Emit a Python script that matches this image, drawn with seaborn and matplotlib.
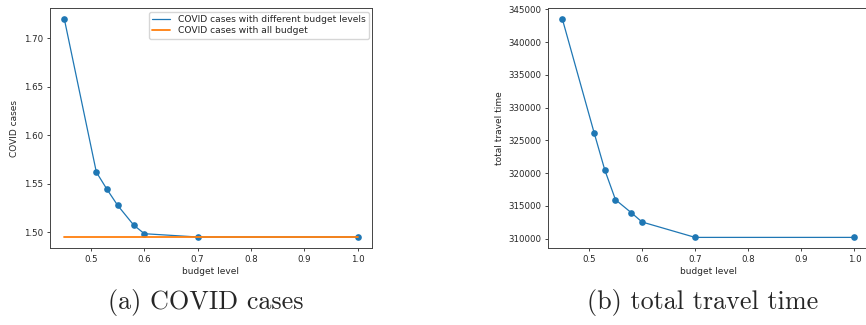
import matplotlib
matplotlib.use("Agg")
import matplotlib.pyplot as plt
from matplotlib.lines import Line2D
import seaborn as sns
import pandas as pd

budget = [0.45, 0.51, 0.53, 0.55, 0.58, 0.6, 0.7, 1.0]
covid_cases = [1.7196, 1.5618, 1.544, 1.5275, 1.5072, 1.4983, 1.4949, 1.4949]
covid_all_budget = 1.4945
travel_time = [343500, 326100, 320450, 315950, 313950, 312550, 310200, 310200]

legend_labels = ["COVID cases with different budget levels", "COVID cases with all budget"]
captions = ["(a) COVID cases", "(b) total travel time"]

sns.set_style("ticks")
plt.rcParams['font.family'] = ['DejaVu Sans']

W, H = 866, 325
fig = plt.figure(figsize=(W / 100, H / 100), dpi=100)

def px_axes(l, t, r, b):
    return fig.add_axes([l / W, 1 - b / H, (r - l) / W, (b - t) / H])

fs = 6.2
lfs = 6.5
ax1 = px_axes(49.7, 8.3, 372.3, 248.3)
ax2 = px_axes(547.8, 8.3, 869, 248.3)

c0 = sns.color_palette()[0]
c1 = sns.color_palette()[1]

df1 = pd.DataFrame({"budget level": budget, "COVID cases": covid_cases})
sns.lineplot(data=df1, x="budget level", y="COVID cases", ax=ax1, color=c0,
             marker="o", markersize=4.8, markeredgewidth=0, linewidth=0.9,
             legend=False)
df_all = pd.DataFrame({"budget level": [budget[0], budget[-1]],
                       "COVID cases": [covid_all_budget, covid_all_budget]})
sns.lineplot(data=df_all, x="budget level", y="COVID cases", ax=ax1, color=c1,
             linewidth=1.3, legend=False)
handles = [Line2D([], [], color=c0, linewidth=0.9),
           Line2D([], [], color=c1, linewidth=1.3)]
ax1.legend(handles, legend_labels, loc="upper right", fontsize=6.6, frameon=True,
           fancybox=True, handlelength=2.0, borderpad=0.35, labelspacing=0.25,
           borderaxespad=0.4)

df2 = pd.DataFrame({"budget level": budget, "total travel time": travel_time})
sns.lineplot(data=df2, x="budget level", y="total travel time", ax=ax2, color=c0,
             marker="o", markersize=4.8, markeredgewidth=0, linewidth=0.9)

for ax in (ax1, ax2):
    ax.tick_params(labelsize=fs, width=0.6, length=2.5, pad=2)
    ax.xaxis.label.set_size(lfs)
    ax.yaxis.label.set_size(lfs)
    ax.xaxis.labelpad = 2.5
    ax.yaxis.labelpad = 3.5
    ax.set_xticks([0.5, 0.6, 0.7, 0.8, 0.9, 1.0])
    for s in ax.spines.values():
        s.set_linewidth(0.7)
        s.set_color("#444444")

ax1.set_yticks([1.50, 1.55, 1.60, 1.65, 1.70])
ax1.yaxis.set_major_formatter(matplotlib.ticker.FormatStrFormatter("%.2f"))
ax2.set_yticks([310000, 315000, 320000, 325000, 330000, 335000, 340000, 345000])
ax2.yaxis.set_major_formatter(matplotlib.ticker.FormatStrFormatter("%d"))

fig.text(205.5 / W, 1 - 303 / H, captions[0], ha="center", va="center",
         fontsize=18.8, family="cmr10")
fig.text(702.5 / W, 1 - 303 / H, captions[1], ha="center", va="center",
         fontsize=18.8, family="cmr10")

fig.savefig("out.png", dpi=100)
